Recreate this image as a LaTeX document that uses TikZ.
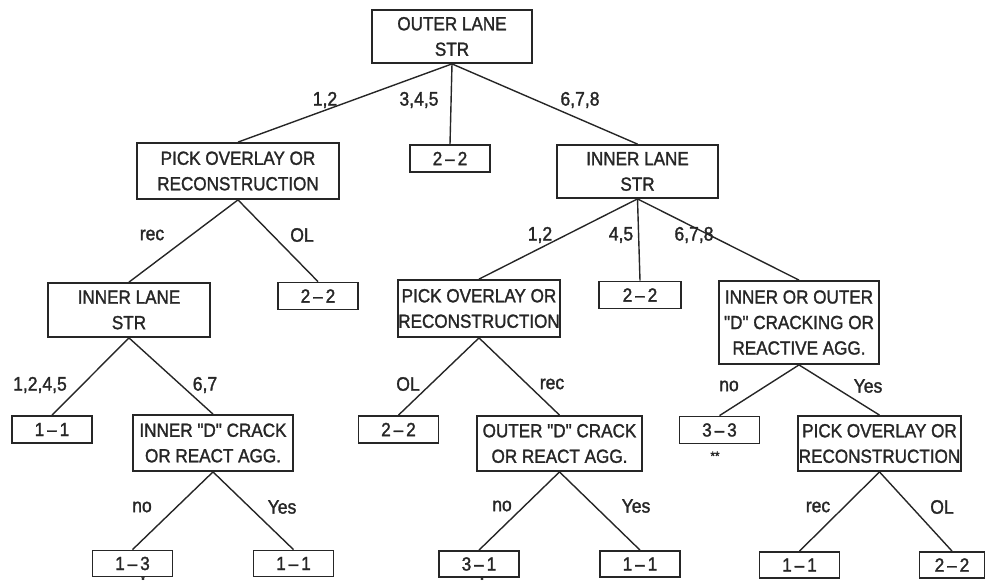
\documentclass[tikz,border=0pt]{standalone}
\usepackage{fontspec}
\setmainfont{Liberation Sans}[FakeStretch=0.9,FakeBold=1.5,Ligatures=TeXOff]
\newcommand{\dd}[2]{#1\hspace{3pt}–\hspace{3pt}#2}
\begin{document}
\begin{tikzpicture}[x=1pt,y=-1pt,
  bx/.style={draw=black!85, line width=1.8pt, align=center, inner sep=0pt, text=black!85, font=\fontsize{19}{25.5}\selectfont},
  sm/.style={bx, minimum width=80pt, minimum height=27pt},
  lbl/.style={font=\fontsize{19.5}{20}\selectfont, inner sep=0pt, text=black!85},
  ln/.style={line width=1.4pt, draw=black!85}]
\useasboundingbox (0,0) rectangle (990,584);
% level 0
\node[bx, minimum width=160pt, minimum height=53pt] (outer) at (452,36.5) {OUTER LANE\\STR};
% level 1
\node[bx, minimum width=202pt, minimum height=56pt] (pickL) at (238,171) {PICK OVERLAY OR\\RECONSTRUCTION};
\node[sm] (tt1) at (450,158.5) {\dd22};
\node[bx, minimum width=161pt, minimum height=53pt] (innerT) at (637.5,171.5) {INNER LANE\\STR};
% level 2
\node[bx, minimum width=162pt, minimum height=54pt] (innerL) at (129,310) {INNER LANE\\STR};
\node[sm] (tt2) at (318,296) {\dd22};
\node[bx, minimum width=162pt, minimum height=57pt] (pickM) at (479,308.5) {PICK OVERLAY OR\\RECONSTRUCTION};
\node[sm, minimum width=82pt] (tt3) at (640,295) {\dd22};
\node[bx, minimum width=160pt, minimum height=83pt] (ioD) at (799,322.5) {INNER OR OUTER\\"D" CRACKING OR\\REACTIVE AGG.};
% level 3
\node[sm] (oo1) at (52,429.5) {\dd11};
\node[bx, minimum width=160pt, minimum height=56pt] (inD) at (213,443) {INNER "D" CRACK\\OR REACT AGG.};
\node[sm] (tt4) at (398.5,429.5) {\dd22};
\node[bx, minimum width=165pt, minimum height=55pt] (outD) at (559.5,443.5) {OUTER "D" CRACK\\OR REACT AGG.};
\node[sm] (th3) at (719.5,430) {\dd33};
\node[bx, minimum width=163pt, minimum height=55pt] (pickR) at (879.5,443.5) {PICK OVERLAY OR\\RECONSTRUCTION};
% level 4
\node[sm, minimum height=26pt] (ot3) at (132.5,563.5) {\dd13};
\node[sm, minimum height=26pt] (oo2) at (293.5,563.5) {\dd11};
\node[sm, minimum height=26pt] (th1) at (479,564) {\dd31};
\node[sm, minimum height=26pt] (oo3) at (640,564) {\dd11};
\node[sm, minimum height=26pt] (oo4) at (799.5,565) {\dd11};
\node[sm, minimum width=65pt, minimum height=26pt] (tt5) at (952,565) {\dd22};
% connectors
\draw[ln] (outer.south) -- (pickL.north);
\draw[ln] (outer.south) -- (tt1.north);
\draw[ln] (outer.south) -- (innerT.north);
\draw[ln] (pickL.south) -- (innerL.north);
\draw[ln] (pickL.south) -- (tt2.north);
\draw[ln] (innerT.south) -- (pickM.north);
\draw[ln] (innerT.south) -- (tt3.north);
\draw[ln] (innerT.south) -- (ioD.north);
\draw[ln] (innerL.south) -- (oo1.north);
\draw[ln] (innerL.south) -- (inD.north);
\draw[ln] (pickM.south) -- (tt4.north);
\draw[ln] (pickM.south) -- (outD.north);
\draw[ln] (ioD.south) -- (th3.north);
\draw[ln] (ioD.south) -- (pickR.north);
\draw[ln] (inD.south) -- (ot3.north);
\draw[ln] (inD.south) -- (oo2.north);
\draw[ln] (outD.south) -- (th1.north);
\draw[ln] (outD.south) -- (oo3.north);
\draw[ln] (pickR.south) -- (oo4.north);
\draw[ln] (pickR.south) -- (tt5.north);
% labels
\node[lbl] (l1) at (325,100) {1,2};
\node[lbl] (l2) at (419,100) {3,4,5};
\node[lbl] (l3) at (580,100) {6,7,8};
\node[lbl] (l4) at (152,235) {rec};
\node[lbl] (l5) at (302,235) {OL};
\node[lbl] (l6) at (540,235) {1,2};
\node[lbl] (l7) at (621,235) {4,5};
\node[lbl] (l8) at (694,235) {6,7,8};
\node[lbl] (l9) at (40,385) {1,2,4,5};
\node[lbl] (l10) at (205,385) {6,7};
\node[lbl] (l11) at (408,384) {OL};
\node[lbl] (l12) at (552,384) {rec};
\node[lbl] (l13) at (729,386) {no};
\node[lbl] (l14) at (868,386) {Yes};
\node[lbl] (l15) at (142,507) {no};
\node[lbl] (l16) at (282,507) {Yes};
\node[lbl] (l17) at (502,506) {no};
\node[lbl] (l18) at (636,506) {Yes};
\node[lbl] (l19) at (818,507) {rec};
\node[lbl] (l20) at (942,507) {OL};
\node[lbl, font=\fontsize{13}{13}\selectfont] (st1) at (715,456) {**};
\node[lbl, font=\fontsize{10}{10}\selectfont, anchor=south] (st2) at (143,583.5) {*};
\node[lbl, font=\fontsize{10}{10}\selectfont, anchor=south] (st3) at (482,583.5) {*};
\end{tikzpicture}
\end{document}
